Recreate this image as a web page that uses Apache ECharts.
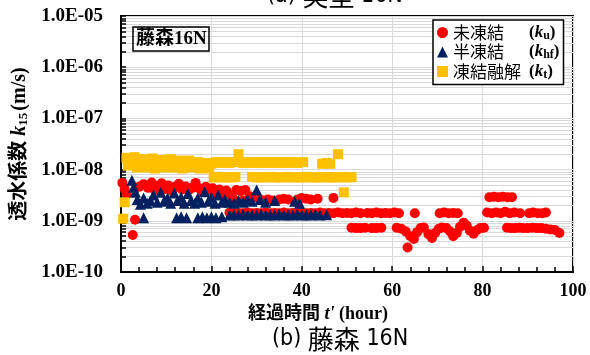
<!DOCTYPE html>
<html>
<head>
<meta charset="utf-8">
<script src="https://cdn.jsdelivr.net/npm/echarts@6/dist/echarts.min.js"></script>
<style>
  html, body { margin: 0; padding: 0; background: #fff; }
  #chart { width: 590px; height: 355px; }
</style>
</head>
<body>
<div id="chart"></div>
<script>
// [hour, k15 (m/s)]
const unfrozen = [
  [0.3, 5.5e-9], [0.8, 4.2e-9], [1.3, 3.3e-9], [2.6, 5.3e-10], [3.1, 1.05e-9],
  [4, 4.6e-9], [5, 5.2e-9], [6, 4.4e-9], [6.8, 5.6e-9], [7.5, 4.0e-9], [8.2, 4.8e-9],
  [9, 5.4e-9], [9.8, 4.2e-9], [10.5, 4.9e-9], [11.3, 3.8e-9], [12, 4.6e-9], [12.8, 5.3e-9],
  [13.5, 4.1e-9], [14.3, 4.7e-9], [15, 3.9e-9], [15.8, 4.4e-9], [16.5, 5.5e-9], [17.3, 4.3e-9],
  [18, 3.7e-9], [18.8, 4.6e-9], [19.5, 3.9e-9], [20.3, 4.3e-9], [21, 3.5e-9], [21.8, 4.1e-9],
  [22.5, 3.4e-9], [23.3, 3.9e-9], [24, 3.2e-9], [25.5, 4.0e-9], [26.5, 3.8e-9], [27.5, 4.0e-9],
  [28.5, 3.0e-9],
  [25, 2.6e-9], [27, 2.5e-9], [29, 2.8e-9], [30.7, 2.6e-9], [31.5, 2.5e-9], [32.5, 2.6e-9],
  [33.5, 2.5e-9], [35, 2.6e-9], [36, 2.7e-9], [37, 2.6e-9], [39, 2.6e-9], [40, 2.8e-9],
  [41, 2.7e-9], [42, 2.6e-9], [43.5, 2.7e-9], [47, 2.8e-9],
  [24, 1.45e-9], [25, 1.4e-9], [26, 1.42e-9], [27, 1.4e-9], [28, 1.45e-9], [29, 1.4e-9],
  [30, 1.42e-9], [31, 1.4e-9], [32, 1.45e-9], [33, 1.4e-9], [34, 1.42e-9], [35, 1.4e-9],
  [36, 1.45e-9], [37, 1.4e-9], [38, 1.42e-9], [39, 1.4e-9], [40, 1.45e-9], [41, 1.4e-9],
  [42, 1.42e-9], [43, 1.4e-9], [44, 1.45e-9], [45, 1.4e-9], [46, 1.42e-9], [47, 1.4e-9],
  [48, 1.45e-9], [49, 1.4e-9], [50, 1.42e-9], [51, 1.4e-9], [52, 1.45e-9], [53, 1.4e-9],
  [54.5, 1.42e-9], [55.5, 1.4e-9], [56.5, 1.45e-9], [57.5, 1.4e-9], [58.5, 1.42e-9],
  [59.5, 1.4e-9], [60.5, 1.45e-9], [61.5, 1.4e-9], [65, 1.4e-9],
  [70.5, 1.4e-9], [71.5, 1.45e-9], [72.5, 1.4e-9], [73.5, 1.42e-9], [74.5, 1.4e-9],
  [81, 1.45e-9], [82, 1.4e-9], [83, 1.45e-9], [84, 1.4e-9], [85, 1.5e-9], [86, 1.4e-9],
  [87, 1.45e-9], [88.3, 1.4e-9], [90.3, 1.4e-9], [91.2, 1.45e-9], [92.2, 1.4e-9],
  [93.2, 1.4e-9], [94, 1.45e-9],
  [81.5, 2.9e-9], [82.5, 2.95e-9], [83.5, 2.9e-9], [84.5, 2.95e-9], [85.5, 2.9e-9], [86.5, 2.9e-9],
  [51, 7.3e-10], [52, 7.2e-10], [53, 7.2e-10], [54, 7.3e-10], [55.5, 7.2e-10], [56.5, 7.2e-10],
  [57.6, 7.3e-10],
  [61, 7.3e-10], [62, 7.0e-10], [63, 6.2e-10], [63.4, 3.0e-10], [64, 5.0e-10], [64.8, 4.4e-10],
  [65.5, 6.0e-10], [66.3, 7.2e-10], [67, 7.4e-10], [68, 5.5e-10], [68.8, 4.6e-10], [69.5, 5.8e-10],
  [70.3, 7.0e-10], [71, 7.4e-10], [72, 7.2e-10], [72.8, 6.2e-10], [73.5, 5.0e-10], [74.3, 5.8e-10],
  [75, 7.6e-10], [75.8, 9.2e-10], [76.5, 8.0e-10], [77.2, 6.4e-10], [78, 5.6e-10], [78.8, 6.6e-10],
  [79.5, 7.2e-10], [80.3, 7.3e-10],
  [85.4, 7.3e-10], [86.3, 7.2e-10], [87.2, 7.2e-10], [88.1, 7.3e-10], [89, 7.2e-10], [90, 7.2e-10],
  [91, 7.3e-10], [92, 7.2e-10], [93, 7.2e-10], [94, 7.0e-10], [95, 6.8e-10], [96, 6.6e-10],
  [97, 5.8e-10]
];

const halfFrozen = [
  [2.4, 6.2e-9], [2.8, 4.5e-9], [3.2, 3.6e-9],
  [3.6, 2.6e-9], [4.3, 2.1e-9], [5, 2.8e-9], [5.8, 2.2e-9], [6.5, 2.5e-9], [7.2, 3.2e-9],
  [8, 2.3e-9], [8.8, 3.6e-9], [9.5, 2.4e-9], [10.3, 2.8e-9], [11, 2.2e-9], [11.8, 3.5e-9],
  [12.5, 2.5e-9], [13.3, 2.9e-9], [14, 2.2e-9], [14.8, 3.4e-9], [15.5, 2.5e-9], [16.3, 2.2e-9],
  [17, 2.8e-9], [17.8, 2.3e-9], [18.5, 3.7e-9], [19.3, 2.4e-9], [20, 2.9e-9], [20.8, 2.2e-9],
  [21.5, 3.2e-9], [22.3, 2.3e-9], [23, 2.6e-9], [24, 2.3e-9], [25, 2.2e-9], [26, 2.5e-9],
  [27, 2.3e-9], [28, 2.6e-9], [29, 2.4e-9], [30, 4.0e-9], [30.8, 2.6e-9], [32, 2.3e-9],
  [34, 2.5e-9], [38.4, 2.4e-9], [39.5, 2.2e-9],
  [5, 1.15e-9], [12.3, 1.15e-9], [13.3, 1.2e-9], [14.5, 1.15e-9], [17, 1.15e-9], [18, 1.2e-9],
  [19, 1.15e-9], [20, 1.2e-9], [21, 1.15e-9], [22.3, 1.2e-9],
  [24, 1.3e-9], [25, 1.32e-9], [26, 1.3e-9], [27, 1.35e-9], [28, 1.3e-9], [29, 1.32e-9],
  [30, 1.3e-9], [31, 1.35e-9], [32, 1.3e-9], [33, 1.32e-9], [34, 1.3e-9], [35, 1.35e-9],
  [36, 1.3e-9], [37, 1.32e-9], [38, 1.3e-9], [39, 1.35e-9], [40, 1.3e-9], [41, 1.32e-9],
  [42, 1.3e-9], [43, 1.35e-9], [44, 1.3e-9], [45.5, 1.32e-9]
];

const thawed = [
  [0.5, 1.1e-9], [0.8, 2.3e-9],
  [1.2, 1.7e-8], [1.5, 1.2e-8], [2, 1.6e-8], [2.5, 1.3e-8], [3, 1.75e-8], [3.5, 1.1e-8],
  [4, 1.5e-8], [4.5, 1.25e-8], [5, 1.6e-8], [5.5, 1.1e-8], [6, 1.5e-8], [6.5, 1.3e-8],
  [7, 1.65e-8], [7.5, 1.05e-8], [8, 1.45e-8], [8.5, 1.2e-8], [9, 1.55e-8], [9.5, 1.1e-8],
  [10, 1.4e-8], [10.5, 1.25e-8], [11, 1.6e-8], [11.5, 1.1e-8], [12, 1.4e-8], [12.5, 1.2e-8],
  [13, 1.5e-8], [13.5, 1.05e-8], [14, 1.4e-8], [14.5, 1.2e-8], [15, 1.5e-8], [15.5, 1.1e-8],
  [16, 1.35e-8], [16.5, 1.15e-8], [17, 1.4e-8], [17.5, 1.05e-8], [18, 1.3e-8], [18.5, 1.1e-8],
  [19, 1.35e-8], [19.5, 1.05e-8], [20, 1.3e-8],
  [21, 1.4e-8], [22, 1.35e-8], [23, 1.4e-8], [24, 1.35e-8], [25, 1.4e-8], [26, 2.0e-8],
  [27, 1.35e-8], [28, 1.4e-8], [29, 1.35e-8], [30, 1.4e-8], [31, 1.35e-8], [32, 1.4e-8],
  [33, 1.35e-8], [34, 1.4e-8], [35, 1.35e-8], [36, 1.4e-8], [37, 1.35e-8], [38, 1.4e-8],
  [39, 1.35e-8], [40.3, 1.4e-8],
  [44.5, 1.3e-8], [45.5, 1.35e-8], [46.3, 1.3e-8], [48, 2.0e-8], [49.3, 3.6e-9],
  [20.5, 7.0e-9], [21.5, 7.2e-9], [22.5, 7.0e-9], [23.5, 7.1e-9], [24.5, 7.0e-9], [25.3, 7.2e-9],
  [29, 7.2e-9], [30, 7.0e-9], [31, 7.1e-9], [32, 7.0e-9], [33, 7.2e-9], [34, 7.0e-9],
  [35, 7.1e-9], [36, 7.0e-9], [37, 7.2e-9], [38, 7.0e-9], [39, 7.1e-9], [40, 7.0e-9],
  [41, 7.2e-9], [42, 7.0e-9], [43, 7.1e-9], [44, 7.0e-9], [45, 7.2e-9], [46, 7.0e-9],
  [47, 7.1e-9], [48, 7.0e-9], [49, 7.2e-9], [50, 7.0e-9], [51, 7.1e-9]
];

const seriesNames = ["未凍結", "半凍結", "凍結融解"];
const seriesSubs = ["u", "hf", "t"];
const xTicks = [0, 20, 40, 60, 80, 100];
// log minor ticks 1..9 x 10^n
const yTickValues = [];
for (let e = -10; e < -5; e++) {
  for (let m = 1; m <= 9; m++) yTickValues.push(m * Math.pow(10, e));
}
yTickValues.push(1e-5);

const serif = "'Liberation Serif', 'Noto Sans CJK JP', serif";
const gothic = "'Noto Sans CJK JP', sans-serif";

const captionRich = {
  l: { fontFamily: "'DejaVu Sans Condensed', 'DejaVu Sans'", fontSize: 23, fontWeight: "normal", color: "#000" },
  c: { fontFamily: gothic, fontSize: 26, fontWeight: "normal", color: "#000" }
};

const chart = echarts.init(document.getElementById("chart"));

chart.setOption({
  backgroundColor: "#fff",
  animation: false,
  title: [
    {
      text: "藤森16N",
      left: 133,
      top: 27,
      padding: [3, 3, 2, 3],
      borderColor: "#000",
      borderWidth: 1.5,
      textStyle: { fontFamily: serif, fontWeight: "bold", fontSize: 19, color: "#000" }
    },
    {
      text: "{l|(a) }{c|実型}{l| 16N}",
      left: 267,
      top: -17,
      padding: 0,
      textStyle: { fontWeight: "normal", rich: captionRich }
    },
    {
      text: "{l|(b) }{c|藤森}{l| 16N}",
      left: 272,
      top: 326,
      padding: 0,
      textStyle: { fontWeight: "normal", rich: captionRich }
    }
  ],
  legend: {
    orient: "vertical",
    left: 433,
    top: 20,
    padding: [4, 4, 4, 4],
    itemGap: 2,
    itemWidth: 11,
    itemHeight: 11,
    borderColor: "#000",
    borderWidth: 1.5,
    backgroundColor: "#fff",
    data: seriesNames,
    formatter: function (name) {
      const i = seriesNames.indexOf(name);
      return `{n|${name}}{p|(}{i|k}{s|${seriesSubs[i]}}{p|)}`;
    },
    textStyle: {
      rich: {
        n: { fontFamily: gothic, fontSize: 17, width: 76, color: "#000", lineHeight: 19 },
        p: { fontFamily: serif, fontSize: 17, color: "#000", fontWeight: "bold" },
        i: { fontFamily: serif, fontSize: 17, fontStyle: "italic", fontWeight: "bold", color: "#000" },
        s: { fontFamily: serif, fontSize: 12, fontWeight: "bold", color: "#000", padding: [6, 0, 0, 0] }
      }
    }
  },
  grid: {
    left: 121,
    right: 17,
    top: 16,
    bottom: 83,
    show: true,
    borderColor: "#000",
    borderWidth: 2,
    containLabel: false
  },
  xAxis: {
    type: "value",
    min: 0,
    max: 100,
    interval: 20,
    name: "経過時間 {i|t'} (hour)",
    nameLocation: "middle",
    nameGap: 33,
    nameTextStyle: {
      fontFamily: serif,
      fontWeight: "bold",
      fontSize: 18,
      color: "#000",
      padding: [0, 58, 0, 0],
      rich: {
        i: { fontFamily: serif, fontStyle: "italic", fontWeight: "bold", fontSize: 18, color: "#000" }
      }
    },
    axisLine: { lineStyle: { color: "#000", width: 2 } },
    axisTick: { inside: true, length: 6, lineStyle: { color: "#000", width: 1.5 } },
    minorTick: { show: true, splitNumber: 5, length: 5, lineStyle: { color: "#000", width: 1.5 } },
    splitLine: { show: true, lineStyle: { color: "#d9d9d9", width: 1 } },
    axisLabel: {
      margin: 10,
      fontFamily: serif,
      fontWeight: "bold",
      fontSize: 18,
      color: "#000",
      customValues: xTicks
    }
  },
  yAxis: {
    type: "log",
    logBase: 10,
    min: 1e-10,
    max: 1e-5,
    name: "透水係数 {i|k}{s|15}(m/s)",
    nameLocation: "middle",
    nameRotate: 90,
    nameGap: 90,
    nameTextStyle: {
      fontFamily: serif,
      fontWeight: "bold",
      fontSize: 20,
      color: "#000",
      rich: {
        i: { fontFamily: serif, fontStyle: "italic", fontWeight: "bold", fontSize: 20, color: "#000" },
        s: { fontFamily: serif, fontWeight: "bold", fontSize: 13, color: "#000", padding: [8, 2, 0, 0] }
      }
    },
    axisLine: { lineStyle: { color: "#000", width: 2 } },
    axisTick: {
      inside: true,
      length: 5,
      customValues: yTickValues,
      lineStyle: { color: "#000", width: 1.5 }
    },
    splitLine: { show: true, lineStyle: { color: "#d9d9d9", width: 1 } },
    axisLabel: {
      margin: 18,
      fontFamily: serif,
      fontWeight: "bold",
      fontSize: 19,
      color: "#000",
      formatter: function (v) {
        const e = Math.round(Math.log10(v));
        return "1.0E-" + String(-e).padStart(2, "0");
      }
    }
  },
  series: [
    {
      name: seriesNames[0],
      type: "scatter",
      symbol: "circle",
      symbolSize: 10,
      itemStyle: { color: "#ff0000", opacity: 1 },
      data: unfrozen,
      z: 2
    },
    {
      name: seriesNames[1],
      type: "scatter",
      symbol: "triangle",
      symbolSize: [11, 11],
      itemStyle: { color: "#002060", opacity: 1 },
      data: halfFrozen,
      z: 3
    },
    {
      name: seriesNames[2],
      type: "scatter",
      symbol: "rect",
      symbolSize: 10,
      itemStyle: { color: "#ffc000", opacity: 1 },
      data: thawed,
      z: 4
    }
  ]
});
</script>
</body>
</html>
